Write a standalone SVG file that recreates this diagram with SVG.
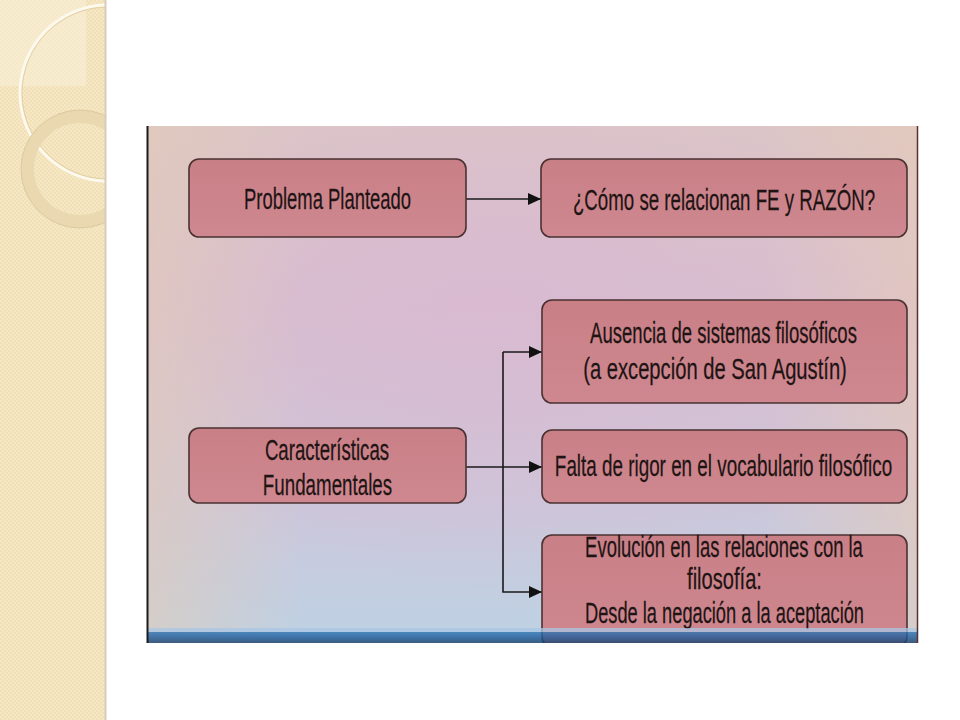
<svg xmlns="http://www.w3.org/2000/svg" width="960" height="720" viewBox="0 0 960 720">
<defs>
<style>
.box{fill:url(#boxg);stroke:#4a3232;stroke-width:1.6}
.t{font-family:"Liberation Sans",Arial,sans-serif;font-size:29px;fill:#1e1414;stroke:#1e1414;stroke-width:0.25;text-anchor:middle}
.ln{fill:none;stroke:#1a1a1a;stroke-width:1.6}
</style>
<pattern id="chk" width="4" height="4" patternUnits="userSpaceOnUse">
<rect width="4" height="4" fill="#f1e0b6"/>
<rect width="2" height="2" fill="#f6e8c6"/>
<rect x="2" y="2" width="2" height="2" fill="#f6e8c6"/>
</pattern>
<linearGradient id="bgv" x1="0" y1="0" x2="0" y2="1">
<stop offset="0" stop-color="#dcc6c6"/>
<stop offset="0.35" stop-color="#d8bfcf"/>
<stop offset="0.7" stop-color="#cdc6da"/>
<stop offset="1" stop-color="#bed2e4"/>
</linearGradient>
<radialGradient id="bgr" cx="0.45" cy="0.35" r="0.55">
<stop offset="0" stop-color="#d9b8d2" stop-opacity="0.7"/>
<stop offset="1" stop-color="#d9b8d2" stop-opacity="0"/>
</radialGradient>
<linearGradient id="bgh" x1="0" y1="0" x2="1" y2="0">
<stop offset="0" stop-color="#e2cbb8" stop-opacity="0.6"/>
<stop offset="0.2" stop-color="#e2cbb8" stop-opacity="0"/>
<stop offset="0.8" stop-color="#e6cbb8" stop-opacity="0"/>
<stop offset="1" stop-color="#e6cbb8" stop-opacity="0.6"/>
</linearGradient>
<linearGradient id="boxg" x1="0" y1="0" x2="0" y2="1">
<stop offset="0" stop-color="#c97f86"/>
<stop offset="1" stop-color="#cf8890"/>
</linearGradient>
<linearGradient id="bar" x1="0" y1="0" x2="0" y2="1">
<stop offset="0" stop-color="#2e74b4"/>
<stop offset="0.5" stop-color="#1d5a98"/>
<stop offset="1" stop-color="#193e66"/>
</linearGradient>
<marker id="ah" viewBox="0 0 13 12" refX="13" refY="6" markerWidth="13" markerHeight="12" markerUnits="userSpaceOnUse" orient="auto">
<path d="M0,0 L13,6 L0,12 z" fill="#111"/>
</marker>
<clipPath id="frame"><rect x="147" y="126" width="771" height="517"/></clipPath>
<clipPath id="stripclip"><rect x="0" y="0" width="105" height="720"/></clipPath>
</defs>
<rect width="960" height="720" fill="#ffffff"/>
<g id="strip" clip-path="url(#stripclip)">
<rect x="0" y="0" width="105" height="720" fill="url(#chk)"/>
<rect x="0" y="0" width="86" height="86" fill="#f8eed6" opacity="0.6"/>
<circle cx="108" cy="93" r="88" fill="none" stroke="#fdf9ee" stroke-width="3"/>
<circle cx="108" cy="93" r="86" fill="none" stroke="#e2cfa4" stroke-width="1"/>
<circle cx="80" cy="169" r="52.5" fill="none" stroke="#e9d8b0" stroke-width="13"/>
<circle cx="80" cy="169" r="59" fill="none" stroke="#ddc9a0" stroke-width="1"/>
</g>
<line x1="105.5" y1="0" x2="105.5" y2="720" stroke="#d6cdbb" stroke-width="2"/>
<g id="background" clip-path="url(#frame)">
<rect x="147" y="126" width="771" height="517" fill="url(#bgv)"/>
<rect x="147" y="126" width="771" height="517" fill="url(#bgr)"/>
<rect x="147" y="126" width="771" height="517" fill="url(#bgh)"/>
</g>
<g id="connectors">
<line class="ln" x1="466" y1="199" x2="541" y2="199" marker-end="url(#ah)"/>
<line class="ln" x1="466" y1="467" x2="542" y2="467" marker-end="url(#ah)"/>
<polyline class="ln" points="503,352 503,592 542,592" marker-end="url(#ah)"/>
<line class="ln" x1="503" y1="352" x2="542" y2="352" marker-end="url(#ah)"/>
</g>
<g id="n1">
<rect class="box" x="189" y="159" width="277" height="78" rx="10"/>
<text class="t" transform="translate(327.5,209) scale(0.64,1)" x="0" y="0" textLength="261" lengthAdjust="spacingAndGlyphs">Problema Planteado</text>
</g>
<g id="n2">
<rect class="box" x="541" y="159" width="366" height="78" rx="10"/>
<text class="t" transform="translate(724,210) scale(0.64,1)" x="0" y="0" textLength="472" lengthAdjust="spacingAndGlyphs">¿Cómo se relacionan FE y RAZÓN?</text>
</g>
<g id="n3">
<rect class="box" x="542" y="300" width="365" height="103" rx="10"/>
<text class="t" transform="translate(723.5,343) scale(0.64,1)" x="0" y="0" textLength="417" lengthAdjust="spacingAndGlyphs">Ausencia de sistemas filosóficos</text>
<text class="t" transform="translate(715,379) scale(0.64,1)" x="0" y="0" textLength="412" lengthAdjust="spacingAndGlyphs">(a excepción de San Agustín)</text>
</g>
<g id="n4">
<rect class="box" x="542" y="430" width="365" height="73" rx="10"/>
<text class="t" transform="translate(723.5,476) scale(0.64,1)" x="0" y="0" textLength="527" lengthAdjust="spacingAndGlyphs">Falta de rigor en el vocabulario filosófico</text>
</g>
<g id="n5">
<rect class="box" x="189" y="428" width="277" height="75" rx="10"/>
<text class="t" transform="translate(327,460) scale(0.64,1)" x="0" y="0" textLength="194" lengthAdjust="spacingAndGlyphs">Características</text>
<text class="t" transform="translate(327.5,495) scale(0.64,1)" x="0" y="0" textLength="202" lengthAdjust="spacingAndGlyphs">Fundamentales</text>
</g>
<g id="n6" clip-path="url(#frame)">
<rect class="box" x="542" y="535" width="365" height="112" rx="10"/>
<text class="t" transform="translate(724,557) scale(0.64,1)" x="0" y="0" textLength="434" lengthAdjust="spacingAndGlyphs">Evolución en las relaciones con la</text>
<text class="t" transform="translate(724.5,589) scale(0.64,1)" x="0" y="0" textLength="117" lengthAdjust="spacingAndGlyphs">filosofía:</text>
<text class="t" transform="translate(724.5,623) scale(0.64,1)" x="0" y="0" textLength="436" lengthAdjust="spacingAndGlyphs">Desde la negación a la aceptación</text>
</g>
<g id="bottombar">
<rect x="147" y="628" width="771" height="4" fill="#a9c6e4" opacity="0.75"/>
<rect x="147" y="632" width="771" height="11" fill="url(#bar)" opacity="0.8"/>
</g>
<line x1="147.5" y1="126" x2="147.5" y2="643" stroke="#1c1c1c" stroke-width="2"/>
<line x1="917.5" y1="126" x2="917.5" y2="643" stroke="#5a3030" stroke-width="1.5"/>
</svg>
